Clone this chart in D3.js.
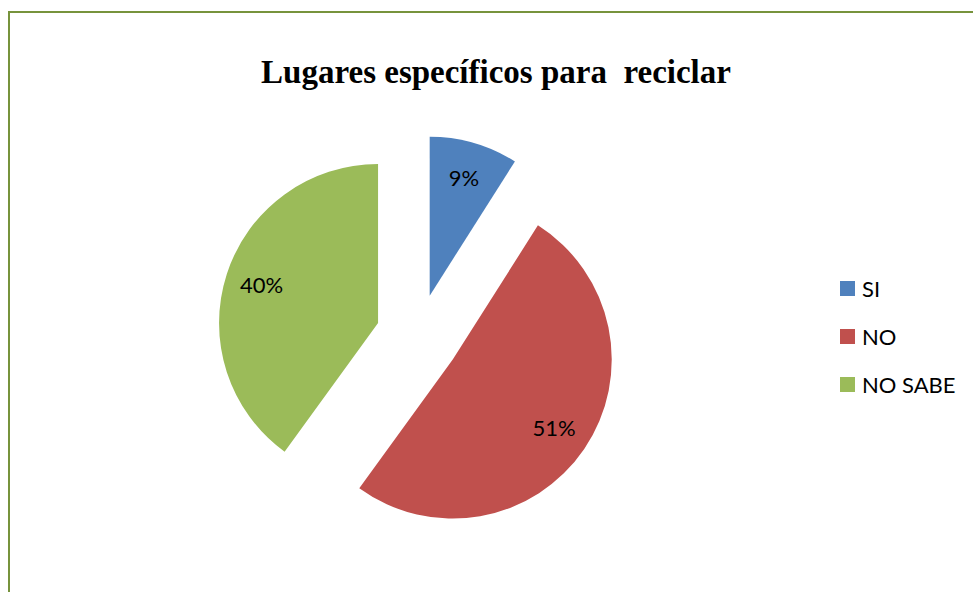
<!DOCTYPE html>
<meta charset="utf-8">
<style type="text/css">
    body { margin: 0; background: #ffffff; }
    svg { display: block; }
</style>
<svg id="chart"></svg>
<script src="https://cdn.jsdelivr.net/npm/d3@7/dist/d3.min.js" type="text/javascript"></script>
<script type="text/javascript">
    // data
    var categories = ["SI", "NO", "NO SABE"];
    var values = [9, 51, 40];
    var colors = ["#4F81BD", "#C0504D", "#9BBB59"];
    var chartTitle = "Lugares específicos para  reciclar";

    var width = 973, height = 592;
    var svg = d3.select("#chart").attr("width", width).attr("height", height);

    // frame (only top and left edges show in the crop)
    svg.append("path")
        .attr("d", "M9,600 L9,12 L980,12")
        .attr("fill", "none")
        .attr("stroke", "#77933C")
        .attr("stroke-width", 2);

    svg.append("text")
        .attr("x", 496)
        .attr("y", 83)
        .attr("text-anchor", "middle")
        .style("font-family", "'Liberation Serif', 'Times New Roman', serif")
        .style("font-weight", "bold")
        .style("font-size", "33px")
        .style("white-space", "pre")
        .text(chartTitle);

    var cx = 418, cy = 336, radius = 159, explode = 42;

    var pie = d3.pie().sort(null).value(d => d);
    var arc = d3.arc().innerRadius(0).outerRadius(radius);
    var arcs = pie(values);

    var slices = svg.append("g").attr("transform", "translate(" + cx + "," + cy + ")");

    var g = slices.selectAll("g.slice")
        .data(arcs)
        .enter().append("g")
        .attr("class", "slice")
        .attr("transform", d => {
            var a = (d.startAngle + d.endAngle) / 2;
            return "translate(" + (Math.sin(a) * explode) + "," + (-Math.cos(a) * explode) + ")";
        });

    g.append("path")
        .attr("d", arc)
        .attr("fill", (d, i) => colors[i]);

    var total = d3.sum(values);
    g.append("text")
        .attr("x", d => Math.sin((d.startAngle + d.endAngle) / 2) * radius * 0.77)
        .attr("y", d => -Math.cos((d.startAngle + d.endAngle) / 2) * radius * 0.77)
        .attr("dy", "0.35em")
        .attr("text-anchor", "middle")
        .style("font-family", "Lato, 'Noto Sans', sans-serif")
        .style("font-size", "22px")
        .attr("fill", "#000")
        .text(d => Math.round(d.value / total * 100) + "%");

    // legend
    var legend = svg.append("g").attr("transform", "translate(840,281)");
    var item = legend.selectAll("g")
        .data(categories)
        .enter().append("g")
        .attr("transform", (d, i) => "translate(0," + (i * 48) + ")");
    item.append("rect")
        .attr("width", 15)
        .attr("height", 15)
        .attr("fill", (d, i) => colors[i]);
    item.append("text")
        .attr("x", 22)
        .attr("y", 8)
        .attr("dy", "0.35em")
        .style("font-family", "Lato, 'Noto Sans', sans-serif")
        .style("font-size", "22px")
        .text(d => d);
</script>
